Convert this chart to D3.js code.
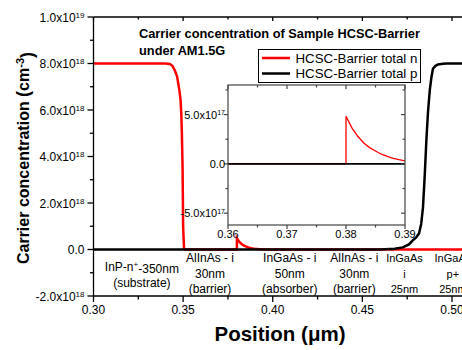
<!DOCTYPE html>
<html><head><meta charset="utf-8">
<script src="https://cdn.jsdelivr.net/npm/d3@7"></script>
<style>body{margin:0;background:#fff}svg{display:block;font-family:"Liberation Sans",Arial,sans-serif}</style>
</head><body><svg id="c" width="462" height="350"></svg>
<script>
// ---- data ----
const seriesNames = ["HCSC-Barrier total n", "HCSC-Barrier total p"];
const nX = [0.300,0.320,0.340,0.3426,0.344,0.3454,0.3466,0.3473,0.3480,0.3486,0.3490,0.3493,0.3497,0.3500,0.3505,0.3510,0.3600,0.3700,0.3800,0.3800,0.3810,0.3820,0.3830,0.3840,0.3850,0.3860,0.3870,0.3880,0.3890,0.3900,0.3920,0.3950,0.4000,0.4200,0.4500,0.4800,0.5000,0.5200];
const nY = [8.0e18,8.0e18,8.0e18,7.98e18,7.9e18,7.7e18,7.45e18,7.14e18,6.8e18,6.4e18,5.8e18,5.0e18,3.5e18,1.0e18,0.05e18,0,0,0,0,4.83e17,3.65e17,2.8e17,2.12e17,1.65e17,1.3e17,0.98e17,0.75e17,0.56e17,0.42e17,0.31e17,0.19e17,0.09e17,0.02e17,0,0,0,0,0];
const pX = [0.300,0.350,0.400,0.450,0.4600,0.4680,0.4725,0.4760,0.4781,0.4800,0.4816,0.4828,0.4838,0.4848,0.4857,0.4866,0.4876,0.4885,0.4894,0.4908,0.4922,0.4950,0.4969,0.5000,0.5200];
const pY = [0,0,0,0,0.005e18,0.03e18,0.09e18,0.22e18,0.39e18,0.52e18,0.69e18,1.1e18,1.8e18,3.2e18,4.69e18,5.9e18,6.84e18,7.4e18,7.78e18,7.9e18,7.96e18,7.99e18,8.0e18,8.0e18,8.0e18];
const xTicks = [0.30,0.35,0.40,0.45,0.50];
const xMinor = [0.325,0.375,0.425,0.475];
const yTicks = [-2e18,0,2e18,4e18,6e18,8e18,1e19];
const yMinor = [-1e18,1e18,3e18,5e18,7e18,9e18];
const insetXTicks = [0.36,0.37,0.38,0.39];
const insetXMinor = [0.365,0.375,0.385];
const insetYTicks = [-5e17,0,5e17];
const insetYMinor = [-2.5e17,2.5e17,7.5e17];
const layerLabels = [
  {x:0.327, lines:[["InP-n","+","-350nm"],["(substrate)"]], size:12},
  {x:0.365, lines:[["AlInAs - i"],["30nm"],["(barrier)"]], size:12},
  {x:0.4095, lines:[["InGaAs - i"],["50nm"],["(absorber)"]], size:12},
  {x:0.4455, lines:[["AlInAs - i"],["30nm"],["(barrier)"]], size:12},
  {x:0.4735, lines:[["InGaAs"],["i"],["25nm"]], size:11},
  {x:0.5005, lines:[["InGaAs"],["p+"],["25nm"]], size:11}
];
const titleLines = ["Carrier concentration of Sample HCSC-Barrier","under AM1.5G"];
const colors = ["#ff0000","#000000"];

// ---- drawing ----
const svg = d3.select("#c");
const x = d3.scaleLinear().domain([0.30,0.50]).range([93.5,452]);
const y = d3.scaleLinear().domain([-2e18,1e19]).range([296,17]);
const W = 462;

function sciLabel(sel, v, supSize){
  if (v === 0) { sel.text("0.0"); return; }
  const e = Math.floor(Math.log10(Math.abs(v)) + 1e-9);
  const m = v / Math.pow(10,e);
  sel.append("tspan").text(m.toFixed(1) + "x10");
  sel.append("tspan").attr("dy","-0.45em").attr("font-size",supSize).text(e);
}

svg.append("defs").append("clipPath").attr("id","mainclip")
  .append("rect").attr("x",93.5).attr("y",17).attr("width",W-93.5).attr("height",279);

const nData = nX.map((v,i)=>[v,nY[i]]);
const pData = pX.map((v,i)=>[v,pY[i]]);
const line = d3.line().x(d=>x(d[0])).y(d=>y(d[1]));
const gl = svg.append("g").attr("clip-path","url(#mainclip)");
gl.append("path").attr("d",line(nData)).attr("fill","none").attr("stroke",colors[0]).attr("stroke-width",2.5);
gl.append("path").attr("d",line(pData)).attr("fill","none").attr("stroke",colors[1]).attr("stroke-width",2.5);

// axes frame
const ax = svg.append("g").attr("stroke","#000").attr("stroke-width",1.3);
ax.append("line").attr("x1",93.5).attr("x2",W).attr("y1",296).attr("y2",296);
ax.append("line").attr("x1",93.5).attr("x2",W).attr("y1",17).attr("y2",17);
ax.append("line").attr("x1",93.5).attr("x2",93.5).attr("y1",17).attr("y2",296);
xTicks.forEach(t=>{ ax.append("line").attr("x1",x(t)).attr("x2",x(t)).attr("y1",296).attr("y2",302);
  ax.append("line").attr("x1",x(t)).attr("x2",x(t)).attr("y1",17).attr("y2",21); });
xMinor.forEach(t=>{ ax.append("line").attr("x1",x(t)).attr("x2",x(t)).attr("y1",296).attr("y2",299.5);
  ax.append("line").attr("x1",x(t)).attr("x2",x(t)).attr("y1",17).attr("y2",19.5); });
yTicks.forEach(t=>ax.append("line").attr("x1",87.5).attr("x2",93.5).attr("y1",y(t)).attr("y2",y(t)));
yMinor.forEach(t=>ax.append("line").attr("x1",90).attr("x2",93.5).attr("y1",y(t)).attr("y2",y(t)));

const tl = svg.append("g").attr("font-size",12).attr("fill","#000");
xTicks.forEach(t=>tl.append("text").attr("x",x(t)).attr("y",314).attr("text-anchor","middle").text(t.toFixed(2)));
yTicks.forEach(t=>{ const s=tl.append("text").attr("x",84.5).attr("y",y(t)+4.5).attr("text-anchor","end"); sciLabel(s,t,8); });

// axis titles
svg.append("text").attr("x",280).attr("y",341).attr("text-anchor","middle").attr("font-weight","bold").attr("font-size",20.5)
  .text("Position (\u03bcm)");
const yl = svg.append("text").attr("transform","translate(29,158) rotate(-90)").attr("text-anchor","middle").attr("font-weight","bold").attr("font-size",16);
yl.append("tspan").text("Carrier concentration ");
yl.append("tspan").attr("font-size",18).text("(");
yl.append("tspan").text("cm");
yl.append("tspan").attr("dy","-0.5em").attr("font-size",11).text("-3");
yl.append("tspan").attr("dy","0.5em").attr("font-size",18).text(")");

// title
titleLines.forEach((t,i)=>svg.append("text").attr("x",139).attr("y",38+i*17).attr("font-weight","bold").attr("font-size",12.8).text(t));

// layer labels
layerLabels.forEach(L=>{
  const n = L.lines.length;
  const y0 = n===2 ? 271 : 262;
  L.lines.forEach((parts,i)=>{
    const t = svg.append("text").attr("x",x(L.x)).attr("y",y0+i*15.5).attr("text-anchor","middle").attr("font-size",L.size);
    if (parts.length===3){ t.append("tspan").text(parts[0]); t.append("tspan").attr("dy","-0.45em").attr("font-size",8).text(parts[1]); t.append("tspan").attr("dy","0.45em").text(parts[2]); }
    else t.text(parts[0]);
  });
});

// legend
const lg = svg.append("g");
lg.append("rect").attr("x",258.5).attr("y",49.5).attr("width",162).attr("height",33).attr("fill","#fff").attr("stroke","#000").attr("stroke-width",1);
seriesNames.forEach((s,i)=>{
  const yy = 58 + i*15.5;
  lg.append("line").attr("x1",262).attr("x2",290).attr("y1",yy).attr("y2",yy).attr("stroke",colors[i]).attr("stroke-width",2.5);
  lg.append("text").attr("x",295.5).attr("y",yy+4.7).attr("font-size",13.3).text(s);
});

// inset
const xi = d3.scaleLinear().domain([0.36,0.39]).range([228,405]);
const yi = d3.scaleLinear().domain([-6.2e17,8e17]).range([225,85]);
svg.append("defs").append("clipPath").attr("id","iclip").append("rect").attr("x",228).attr("y",85).attr("width",177).attr("height",140);
const ig = svg.append("g");
ig.append("rect").attr("x",228).attr("y",85).attr("width",177).attr("height",140).attr("fill","#fff");
const iline = d3.line().x(d=>xi(d[0])).y(d=>yi(d[1]));
const ic = ig.append("g").attr("clip-path","url(#iclip)");
ic.append("path").attr("d",iline(nData)).attr("fill","none").attr("stroke",colors[0]).attr("stroke-width",1.3);
ic.append("path").attr("d",iline(pData)).attr("fill","none").attr("stroke",colors[1]).attr("stroke-width",1.6);
const ia = ig.append("g").attr("stroke","#444").attr("stroke-width",1.2);
ia.append("rect").attr("x",228).attr("y",85).attr("width",177).attr("height",140).attr("fill","none");
insetXTicks.forEach(t=>{ ia.append("line").attr("x1",xi(t)).attr("x2",xi(t)).attr("y1",225).attr("y2",229);
  ia.append("line").attr("x1",xi(t)).attr("x2",xi(t)).attr("y1",85).attr("y2",89); });
insetXMinor.forEach(t=>{ ia.append("line").attr("x1",xi(t)).attr("x2",xi(t)).attr("y1",225).attr("y2",227.5);
  ia.append("line").attr("x1",xi(t)).attr("x2",xi(t)).attr("y1",85).attr("y2",87.5); });
insetYTicks.forEach(t=>{ ia.append("line").attr("x1",224).attr("x2",228).attr("y1",yi(t)).attr("y2",yi(t));
  ia.append("line").attr("x1",401).attr("x2",405).attr("y1",yi(t)).attr("y2",yi(t)); });
insetYMinor.forEach(t=>{ ia.append("line").attr("x1",225.5).attr("x2",228).attr("y1",yi(t)).attr("y2",yi(t));
  ia.append("line").attr("x1",402.5).attr("x2",405).attr("y1",yi(t)).attr("y2",yi(t)); });
const itl = ig.append("g").attr("font-size",11).attr("fill","#000");
insetXTicks.forEach(t=>itl.append("text").attr("x",xi(t)).attr("y",237.5).attr("text-anchor","middle").text(t.toFixed(2)));
insetYTicks.forEach(t=>{ const s=itl.append("text").attr("x",225).attr("y",yi(t)+4).attr("text-anchor","end"); sciLabel(s,t,7); });
</script></body></html>
